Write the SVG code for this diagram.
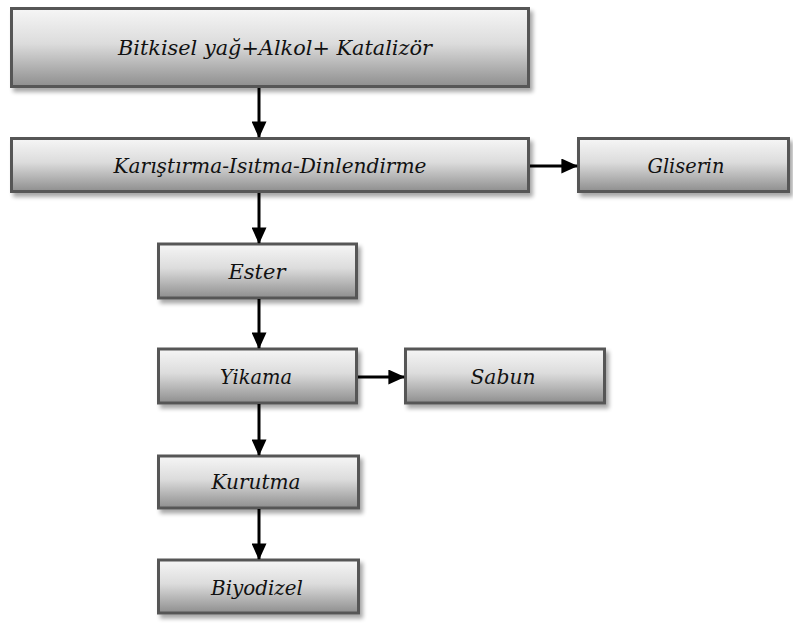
<svg xmlns="http://www.w3.org/2000/svg" width="793" height="623" viewBox="0 0 793 623">
<defs>
<linearGradient id="g" x1="0" y1="0" x2="0" y2="1">
<stop offset="0" stop-color="#f6f6f6"/>
<stop offset="0.45" stop-color="#dcdcdc"/>
<stop offset="1" stop-color="#8e8e8e"/>
</linearGradient>
<filter id="sh" x="-10%" y="-20%" width="130%" height="160%">
<feGaussianBlur in="SourceAlpha" stdDeviation="2"/>
<feOffset dx="3" dy="4" result="b"/>
<feComponentTransfer><feFuncA type="linear" slope="0.35"/></feComponentTransfer>
<feMerge><feMergeNode/><feMergeNode in="SourceGraphic"/></feMerge>
</filter>
<marker id="ah" markerWidth="5.5" markerHeight="5" refX="5.2" refY="2.5" orient="auto" markerUnits="strokeWidth">
<path d="M0,0 L5.5,2.5 L0,5 Z" fill="#000"/>
</marker>
</defs>
<style>
.box rect{fill:url(#g);stroke:#575757;stroke-width:3;filter:url(#sh)}
.box text{font-family:'DejaVu Serif','Liberation Serif',serif;font-style:italic;font-size:21px;fill:#111;text-anchor:middle}
.conn line{stroke:#000;stroke-width:3;marker-end:url(#ah)}
</style>
<g id="n1" class="box"><rect x="11.5" y="8.5" width="517" height="78"/><text x="275" y="55" textLength="314" lengthAdjust="spacingAndGlyphs">Bitkisel yağ+Alkol+ Katalizör</text></g>
<g id="n2" class="box"><rect x="11.5" y="138.5" width="517" height="53"/><text x="270" y="173" textLength="313" lengthAdjust="spacingAndGlyphs">Karıştırma-Isıtma-Dinlendirme</text></g>
<g id="n3" class="box"><rect x="578.5" y="138.5" width="210" height="53"/><text x="686" y="173" textLength="77" lengthAdjust="spacingAndGlyphs">Gliserin</text></g>
<g id="n4" class="box"><rect x="158.5" y="244" width="198" height="54"/><text x="257" y="279" textLength="57" lengthAdjust="spacingAndGlyphs">Ester</text></g>
<g id="n5" class="box"><rect x="158.5" y="349" width="198" height="54"/><text x="256" y="384" textLength="72" lengthAdjust="spacingAndGlyphs">Yikama</text></g>
<g id="n6" class="box"><rect x="405.5" y="349" width="199" height="54"/><text x="503" y="384" textLength="65" lengthAdjust="spacingAndGlyphs">Sabun</text></g>
<g id="n7" class="box"><rect x="158.5" y="456" width="200" height="52"/><text x="256" y="489" textLength="89" lengthAdjust="spacingAndGlyphs">Kurutma</text></g>
<g id="n8" class="box"><rect x="158.5" y="560" width="200" height="53"/><text x="257" y="595" textLength="92" lengthAdjust="spacingAndGlyphs">Biyodizel</text></g>
<g id="connectors" class="conn">
<line x1="259" y1="88" x2="259" y2="137"/>
<line x1="259" y1="193" x2="259" y2="243"/>
<line x1="259" y1="299" x2="259" y2="348"/>
<line x1="259" y1="404" x2="259" y2="455"/>
<line x1="259" y1="509" x2="259" y2="559"/>
<line x1="530" y1="166" x2="577" y2="166"/>
<line x1="358" y1="377" x2="404" y2="377"/>
</g>
</svg>
